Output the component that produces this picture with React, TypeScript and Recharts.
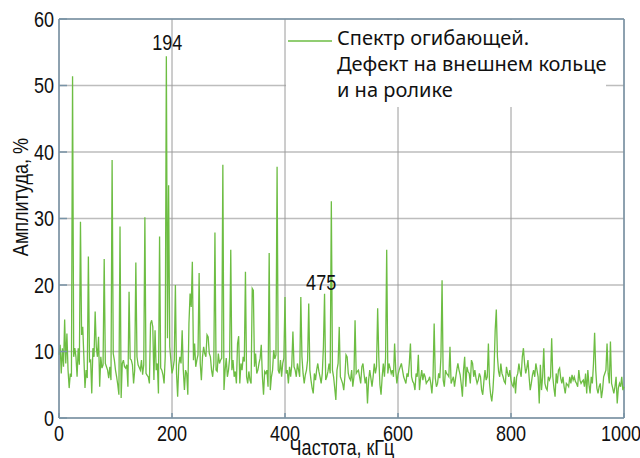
import { LineChart, Line, XAxis, YAxis, CartesianGrid, Legend, ReferenceLine, ReferenceDot } from "recharts"

// envelope spectrum, one sample every 2 kHz from 0 to 1000 kHz
const STEP_KHZ = 2
const amplitude = [
  9.5, 11, 6.7, 10.5, 7.7, 14.8, 8.2, 12.7, 7.2, 4.5, 6.7, 6.2, 51.4, 9.2, 10.5, 9.2, 6.2, 10.5, 8, 29.5, 12.5, 13.7, 9.2, 4.5, 7.2, // 0
  6, 24.3, 8.5, 8.7, 3.7, 10.5, 9.2, 16, 10.7, 9.2, 12.2, 4.7, 9.2, 7.5, 8, 23.9, 8.2, 7.7, 7.2, 6, 7.7, 5.7, 38.8, 9.7, 8.7, // 50
  7.2, 6.2, 5, 3.5, 28.8, 3, 8.2, 8.7, 7.7, 7.5, 8, 4.7, 19, 8.9, 8.7, 8, 5.2, 7.2, 23.4, 9.2, 8, 7.6, 7.2, 8.7, 6.5, // 100
  8, 30.2, 6.7, 6.4, 6.2, 5.2, 14.2, 14.7, 13.7, 5.7, 13.2, 7.2, 8.2, 3.7, 27.3, 7.5, 7.2, 6.5, 5.2, 9.2, 54.4, 12, 35, 10.7, 8.7, // 150
  6.7, 7.5, 8.7, 20, 6.7, 3.2, 8, 9.2, 8.2, 13.2, 7.2, 4.2, 7.2, 6.7, 3.5, 14.2, 18.7, 16.7, 23.5, 8.7, 11.2, 7.7, 8.7, 9.5, 21.8, // 200
  8.2, 5.7, 9.2, 10.7, 9.7, 9.2, 12.5, 12.2, 9.7, 9.2, 7.2, 6.2, 8.2, 27.9, 7.2, 7, 9.7, 8.2, 8.7, 9, 38.1, 4.2, 7.2, 9, 6.2, // 250
  7.2, 9, 25.3, 7.2, 8.7, 6.2, 7, 5.2, 11.2, 12.3, 5.2, 8.2, 7.2, 9.2, 8.5, 22, 6.2, 5.2, 7, 5.7, 5.2, 19.5, 19.2, 7.7, 9.7, // 300
  6.7, 7.2, 8.2, 9, 11, 6.2, 3.5, 7, 6.7, 7.2, 4.7, 24.8, 4.2, 6.2, 7.2, 10.2, 8.9, 9.5, 37.8, 7.2, 6.7, 8.7, 6.2, 8.2, 9, // 350
  18.2, 6.7, 7.2, 5.2, 7.7, 6.2, 8, 13, 7.7, 7.2, 6.2, 8.2, 7.2, 6.2, 18.2, 9.2, 6.7, 5.2, 6.5, 7.2, 8.7, 17.2, 7.2, 5.7, 4.5, // 400
  3.7, 6.7, 5.7, 7.2, 8.2, 7, 6.2, 5.2, 6.7, 10.7, 18.7, 5.7, 6.2, 7, 8.2, 6.7, 32.6, 7.2, 6.2, 4.5, 2.7, 7.2, 8.2, 13.7, 6.2, // 450
  5.7, 5.2, 4.2, 6.2, 9.5, 9.2, 6.7, 6, 5.7, 7.2, 4.7, 6.2, 14.7, 6.7, 7, 7.2, 6.2, 5.2, 7.7, 8.2, 6.5, 5.2, 6.2, 2.2, 5.7, // 500
  7.2, 6, 4.7, 6.2, 8.2, 6.7, 7.7, 16.5, 9.2, 5, 3.5, 6.2, 8.2, 6.2, 9, 25.3, 6.7, 8.2, 7.5, 6.7, 7.2, 6.2, 11.2, 7.2, 5.2, // 550
  6.5, 7.2, 7.7, 8.2, 7.2, 6.2, 5.7, 5.2, 6.7, 6.2, 8.2, 11.2, 6.2, 5.5, 5.2, 4.2, 6.7, 6.2, 9.5, 4.2, 6, 7.2, 5.7, 6.7, 6.2, // 600
  5.2, 5.5, 5.7, 6.2, 5.2, 3.7, 6.2, 14.2, 6, 4.7, 5.2, 6.7, 6, 9.2, 20.7, 5.7, 4.7, 7.2, 6.7, 6.5, 6.2, 10.7, 5.2, 5.7, 6.2, // 650
  4.7, 6, 7.2, 8.2, 7.2, 6.5, 5, 3.2, 7.2, 9.2, 4.7, 7.7, 7, 6.7, 5.2, 8.7, 8.2, 6.2, 7.2, 6, 5.2, 5.7, 6.7, 6.2, 4.2, // 700
  3.5, 5.5, 7.2, 5.7, 6.2, 11.2, 5.2, 3.5, 2.5, 4.2, 7.2, 13.2, 16.3, 9.2, 7, 6.2, 8.2, 6.7, 6.2, 5.5, 5.2, 7.7, 6.7, 6.2, 7.2, // 750
  5.7, 5, 4.7, 6.2, 3.7, 6.2, 6.7, 8.2, 7, 6.2, 9.2, 10.5, 8.2, 6.7, 7.5, 8.7, 6.2, 4.2, 5.2, 6.5, 7.2, 6.2, 8.2, 7.2, 6.2, // 800
  2.2, 8, 4.2, 6.2, 10.5, 5.2, 4.5, 4.2, 6.2, 5.7, 6.2, 12, 6.2, 4.5, 3.2, 6.7, 5.2, 7.2, 7.5, 6, 5.2, 6.2, 4.7, 3.7, 5.2, // 850
  5, 4.7, 6.2, 5.2, 6.5, 5.7, 6.2, 5.5, 5.2, 4.7, 7.2, 5.7, 5.2, 5.5, 5.7, 4.7, 6.7, 3.7, 7.2, 5, 3.7, 6.2, 5.2, 8.2, 12.8, // 900
  7.2, 4.5, 3.7, 4.7, 5.2, 3, 4.2, 6.2, 6.7, 7.2, 11.2, 6.7, 5.2, 11.5, 5.2, 4.5, 3.7, 4.7, 6.2, 2.2, 4.5, 5.2, 4.7, 6.2, 4.2, // 950
  4.7, // 1000
]

const xTicks = [0, 200, 400, 600, 800, 1000]
const yTicks = [0, 10, 20, 30, 40, 50, 60]
const peakNotes = [
  { f: 191.5, a: 56.6, text: "194" },
  { f: 464, a: 20.5, text: "475" },
]
const legendLines = ["Спектр огибающей.", "Дефект на внешнем кольце", "и на ролике"]

const data = amplitude.map((a, i) => ({ f: i * STEP_KHZ, a }))

const LINE_COLOR = "#6dbd43"
const AXIS_COLOR = "#7893a6"
const NUM_FONT = "'Liberation Sans', Arial, sans-serif"
const TEXT_FONT = "'Noto Sans', 'Open Sans', sans-serif"
const SQUEEZE = 0.82 // the original uses a narrow face

// condensed text: Liberation Sans squeezed horizontally
function NarrowText({ x, y, anchor, dy, size = 22, rotate = 0, children }: any) {
  return (
    <text
      transform={`translate(${x} ${y}) rotate(${rotate}) scale(${SQUEEZE} 1)`}
      textAnchor={anchor}
      dy={dy}
      fontFamily={NUM_FONT}
      fontSize={size}
      fill="#111"
    >
      {children}
    </text>
  )
}

function XTick({ x, y, payload }: any) {
  const shift = payload.value === 1000 ? -3 : 0
  return (
    <NarrowText x={x + shift} y={y} anchor="middle" dy="0.71em">
      {payload.value}
    </NarrowText>
  )
}

function YTick({ x, y, payload }: any) {
  return (
    <NarrowText x={x} y={y} anchor="end" dy="0.36em">
      {payload.value}
    </NarrowText>
  )
}

function NoteLabel({ viewBox, value }: any) {
  const cx = viewBox.x + viewBox.width / 2
  const cy = viewBox.y + viewBox.height / 2
  return (
    <NarrowText x={cx} y={cy} anchor="middle" dy="0.36em">
      {value}
    </NarrowText>
  )
}

function SpectrumLegend() {
  return (
    <div style={{ position: "relative", width: 320, height: 87, background: "#fff", fontFamily: TEXT_FONT }}>
      <svg width={46} height={4} style={{ position: "absolute", left: 2, top: 19 }}>
        <line x1={0} y1={2} x2={44} y2={2} stroke={LINE_COLOR} strokeWidth={1.5} />
      </svg>
      <div style={{ position: "absolute", left: 51, top: 5, fontSize: 20, lineHeight: "26px", color: "#111", whiteSpace: "nowrap" }}>
        {legendLines.map((t) => (
          <div key={t}>{t}</div>
        ))}
      </div>
    </div>
  )
}

export default function App() {
  return (
    <div style={{ position: "absolute", left: 0, top: 0, width: 640, height: 458, background: "#fff" }}>
      <LineChart width={640} height={458} data={data} margin={{ top: 19, right: 16, bottom: 0, left: 0 }}>
        <CartesianGrid horizontal={true} vertical={false} stroke="#bdbdbd" strokeWidth={1.5} />
        <CartesianGrid horizontal={false} vertical={true} stroke="#9a9a9a" strokeWidth={1} />
        <XAxis
          dataKey="f"
          type="number"
          domain={[0, 1000]}
          ticks={xTicks}
          interval={0}
          height={40}
          stroke={AXIS_COLOR}
          strokeWidth={1.5}
          tickSize={-5}
          tickMargin={12}
          tick={<XTick />}
          label={{
            content: () => (
              <NarrowText x={342} y={455} anchor="middle" size={22}>
                Частота, кГц
              </NarrowText>
            ),
          }}
        />
        <YAxis
          type="number"
          domain={[0, 60]}
          ticks={yTicks}
          interval={0}
          width={59}
          stroke={AXIS_COLOR}
          strokeWidth={1.5}
          tickSize={-8}
          tickMargin={13}
          tick={<YTick />}
          label={{
            content: () => (
              <NarrowText x={20} y={197} rotate={-90} anchor="middle" dy="0.36em" size={22}>
                Амплитуда, %
              </NarrowText>
            ),
          }}
        />
        <ReferenceLine y={60} stroke={AXIS_COLOR} strokeWidth={1.5} />
        <ReferenceLine x={1000} stroke={AXIS_COLOR} strokeWidth={1.5} />
        <Line
          type="linear"
          dataKey="a"
          name="Спектр огибающей"
          stroke={LINE_COLOR}
          strokeWidth={1.3}
          dot={false}
          activeDot={false}
          isAnimationActive={false}
        />
        {peakNotes.map((p) => (
          <ReferenceDot
            key={p.text}
            x={p.f}
            y={p.a}
            r={1}
            fill="none"
            stroke="none"
            ifOverflow="visible"
            label={<NoteLabel value={p.text} />}
          />
        ))}
        <Legend
          layout="vertical"
          align="center"
          verticalAlign="middle"
          content={<SpectrumLegend />}
          wrapperStyle={{ left: 286, top: 20, width: 320, height: 87 }}
        />
      </LineChart>
    </div>
  )
}
